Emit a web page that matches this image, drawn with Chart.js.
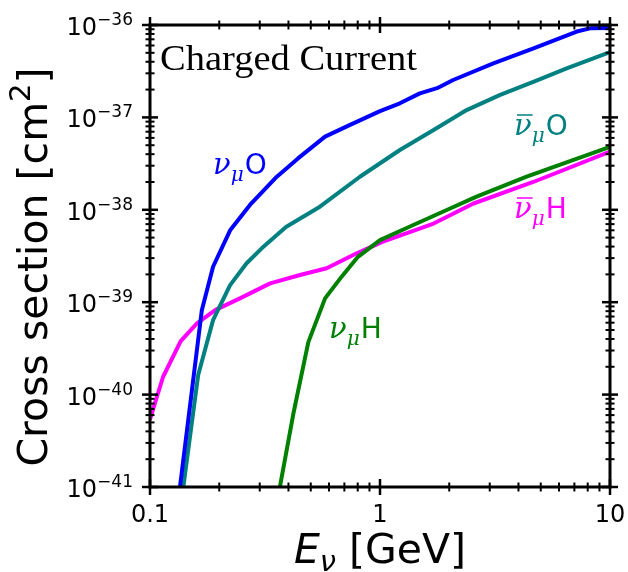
<!DOCTYPE html>
<html>
<head>
<meta charset="utf-8">
<script src="https://cdn.jsdelivr.net/npm/chart.js@4.4.1/dist/chart.umd.min.js"></script>
<style>
  html, body { margin: 0; padding: 0; background: #fff; }
  #chart { display: block; }
</style>
</head>
<body>
<canvas id="chart" width="628" height="572"></canvas>
<script>
/* Values. Energy in GeV, cross section in cm^2 */
const numuO_E  = [0.135, 0.168, 0.188, 0.223, 0.272, 0.356, 0.44, 0.577, 0.741, 1.0, 1.22, 1.49, 1.77, 2.08, 3.11, 4.65, 7.17, 8.19, 10];
const numuO_xs = [1e-41, 8.2e-40, 2.42e-39, 6.0e-39, 1.13e-38, 2.28e-38, 3.6e-38, 6.2e-38, 8.3e-38, 1.17e-37, 1.42e-37, 1.82e-37, 2.07e-37, 2.54e-37, 3.85e-37, 5.6e-37, 8.5e-37, 9.2e-37, 9.3e-37];

const numubarO_E  = [0.1396, 0.162, 0.188, 0.223, 0.263, 0.306, 0.39, 0.548, 0.818, 1.22, 1.71, 2.38, 3.33, 4.64, 6.48, 10];
const numubarO_xs = [1e-41, 1.63e-40, 6.4e-40, 1.53e-39, 2.64e-39, 3.83e-39, 6.5e-39, 1.08e-38, 2.28e-38, 4.44e-38, 7.3e-38, 1.2e-37, 1.75e-37, 2.43e-37, 3.4e-37, 5.1e-37];

const numuH_E  = [0.367, 0.42, 0.488, 0.577, 0.681, 0.802, 1.0, 1.35, 1.95, 2.63, 4.34, 10];
const numuH_xs = [1e-41, 6.2e-41, 3.7e-40, 1.1e-39, 1.89e-39, 3.1e-39, 4.7e-39, 6.6e-39, 9.96e-39, 1.39e-38, 2.28e-38, 4.8e-38];

const numubarH_E  = [0.1, 0.114, 0.136, 0.16, 0.192, 0.246, 0.333, 0.449, 0.586, 0.792, 1.03, 1.71, 2.55, 4.64, 10];
const numubarH_xs = [5.4e-41, 1.56e-40, 3.8e-40, 5.9e-40, 8.2e-40, 1.1e-39, 1.6e-39, 1.97e-39, 2.33e-39, 3.38e-39, 4.52e-39, 7.1e-39, 1.17e-38, 2.0e-38, 4.26e-38];

/* tick labels */
const xTickValues = [0.1, 1, 10];
const xTickLabels = ['0.1', '1', '10'];
const yTickExponents = [-41, -40, -39, -38, -37, -36];

const SANS = '"DejaVu Sans", sans-serif';
const toPoints = (xs, ys) => xs.map((x, i) => ({ x, y: ys[i] }));

/* draws a run of [text, font, dy, gap] pieces starting at x */
function drawRun(ctx, pieces, x, y, align = 'left') {
  let total = 0;
  pieces.forEach(p => { ctx.font = p[1]; total += ctx.measureText(p[0]).width + (p[3] || 0); });
  let cx = align === 'center' ? x - total / 2 : align === 'right' ? x - total : x;
  ctx.textAlign = 'left'; ctx.textBaseline = 'alphabetic';
  pieces.forEach(p => {
    ctx.font = p[1];
    ctx.fillText(p[0], cx, y + p[2]);
    cx += ctx.measureText(p[0]).width + (p[3] || 0);
  });
}

/* series annotation like  nu_mu O  (bar = antineutrino) */
function seriesLabel(ctx, x, y, bar, letter, color) {
  ctx.fillStyle = color; ctx.strokeStyle = color;
  const nuFont = 'italic 29px "DejaVu Serif", serif';
  ctx.font = nuFont;
  const wNu = ctx.measureText('\u03bd').width;
  if (bar) {
    ctx.lineWidth = 1.5;
    ctx.beginPath(); ctx.moveTo(x + 3, y - 20); ctx.lineTo(x + wNu + 1, y - 20); ctx.stroke();
  }
  drawRun(ctx, [
    ['\u03bd', nuFont, 0],
    ['\u03bc', 'italic 20px "DejaVu Serif", serif', 7, 1],
    [letter, '28px ' + SANS, 0]
  ], x, y);
}

const frame = {
  id: 'frame',
  afterDraw(chart) {
    const { ctx, chartArea: a, scales: { x, y } } = chart;
    ctx.save();
    ctx.strokeStyle = '#000'; ctx.fillStyle = '#000';

    const tickX = (v, L, w) => {
      const px = x.getPixelForValue(v);
      ctx.lineWidth = w;
      [a.bottom, a.top].forEach(py => { ctx.beginPath(); ctx.moveTo(px, py - L); ctx.lineTo(px, py + L); ctx.stroke(); });
    };
    const tickY = (v, L, w) => {
      const py = y.getPixelForValue(v);
      ctx.lineWidth = w;
      [a.left, a.right].forEach(px => { ctx.beginPath(); ctx.moveTo(px - L, py); ctx.lineTo(px + L, py); ctx.stroke(); });
    };

    // x ticks, major + minor
    xTickValues.forEach(v => tickX(v, 8, 2.5));
    xTickValues.slice(0, -1).forEach(d => { for (let k = 2; k <= 9; k++) tickX(d * k, 4.5, 2); });
    // y ticks
    yTickExponents.forEach(e => tickY(Math.pow(10, e), 8, 2.5));
    yTickExponents.slice(0, -1).forEach(e => { for (let k = 2; k <= 9; k++) tickY(k * Math.pow(10, e), 4.5, 2); });

    // frame
    ctx.lineWidth = 3;
    ctx.strokeRect(a.left, a.top, a.right - a.left, a.bottom - a.top);

    // tick labels
    ctx.font = '24px ' + SANS; ctx.textAlign = 'center'; ctx.textBaseline = 'alphabetic';
    xTickValues.forEach((v, i) => ctx.fillText(xTickLabels[i], x.getPixelForValue(v), a.bottom + 35));
    yTickExponents.forEach(e => {
      const py = y.getPixelForValue(Math.pow(10, e));
      drawRun(ctx, [['10', '24px ' + SANS, 10], ['\u2212' + Math.abs(e), '17px ' + SANS, 0]], a.left - 17, py, 'right');
    });

    // axis titles
    drawRun(ctx, [
      ['E', 'oblique 41px ' + SANS, 0],
      ['\u03bd', 'oblique 29px ' + SANS, 8],
      [' [GeV]', '41px ' + SANS, 0]
    ], (a.left + a.right) / 2, 563, 'center');

    ctx.save();
    ctx.translate(47, 267);
    ctx.rotate(-Math.PI / 2);
    drawRun(ctx, [
      ['Cross section [cm', '41px ' + SANS, 0],
      ['2', '29px ' + SANS, -17],
      [']', '41px ' + SANS, 0]
    ], 0, 0, 'center');
    ctx.restore();

    // panel text, stretched a little to the width of the original serif face
    ctx.save();
    ctx.font = '36px "Liberation Serif", serif'; ctx.textAlign = 'left';
    const w = ctx.measureText('Charged Current').width;
    ctx.translate(a.left + 10, 70);
    ctx.scale(257 / w, 1);
    ctx.fillText('Charged Current', 0, 0);
    ctx.restore();

    // series annotations
    seriesLabel(ctx, 213, 174, false, 'O', '#0000ff');
    seriesLabel(ctx, 514, 135, true, 'O', '#008080');
    seriesLabel(ctx, 514, 218, true, 'H', '#ff00ff');
    seriesLabel(ctx, 329, 338, false, 'H', '#008000');
    ctx.restore();
  }
};

const line = (label, xs, ys, color) => ({
  label, data: toPoints(xs, ys), borderColor: color, backgroundColor: color,
  borderWidth: 4, pointRadius: 0, tension: 0, clip: 0, fill: false
});

new Chart(document.getElementById('chart'), {
  type: 'line',
  data: {
    datasets: [
      line('\u03bd\u03bc O', numuO_E, numuO_xs, '#0000ff'),
      line('anti-\u03bd\u03bc O', numubarO_E, numubarO_xs, '#008080'),
      line('\u03bd\u03bc H', numuH_E, numuH_xs, '#008000'),
      line('anti-\u03bd\u03bc H', numubarH_E, numubarH_xs, '#ff00ff')
    ]
  },
  options: {
    responsive: false,
    animation: false,
    devicePixelRatio: 1,
    parsing: false,
    layout: { padding: { left: 150, right: 18, top: 25, bottom: 85 } },
    plugins: { legend: { display: false }, tooltip: { enabled: false } },
    elements: { line: { borderJoinStyle: 'round', borderCapStyle: 'butt' } },
    scales: {
      x: { type: 'logarithmic', min: 0.1, max: 10, display: false },
      y: { type: 'logarithmic', min: 1e-41, max: 1e-36, display: false }
    }
  },
  plugins: [frame]
});
</script>
</body>
</html>
